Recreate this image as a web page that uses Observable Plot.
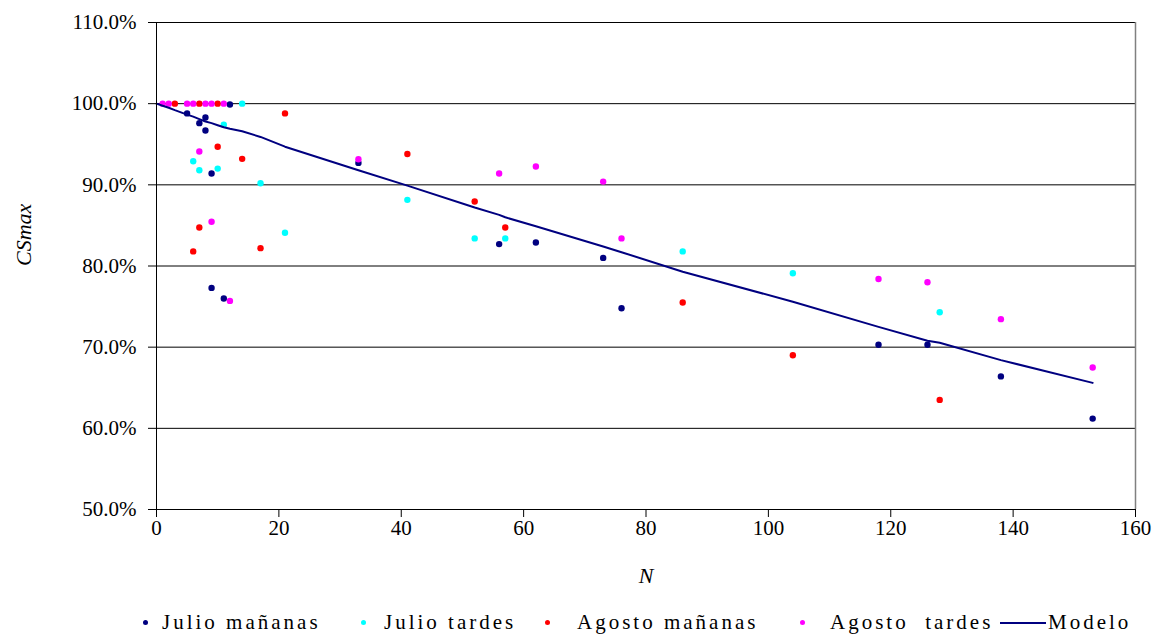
<!DOCTYPE html>
<html>
<head>
<meta charset="utf-8">
<script src="https://cdn.jsdelivr.net/npm/d3@7"></script>
<script src="https://cdn.jsdelivr.net/npm/@observablehq/plot@0.6"></script>
<style>
  html, body { margin: 0; padding: 0; background: #fff; }
  #chart { width: 1157px; }
  #chart svg, #chart svg text { font-family: "Liberation Serif", "Times New Roman", Times, serif !important; }
  .legend { position: relative; width: 1157px; height: 25px; font-family: "Liberation Serif", "Times New Roman", Times, serif; font-size: 21px; line-height: 25px; color: #000; }
  .legend span.t { position: absolute; top: 0; letter-spacing: 3px; white-space: pre; }
  .legend span.d { position: absolute; top: 10px; width: 5px; height: 5px; border-radius: 50%; }
  .legend span.l { position: absolute; top: 12px; height: 2px; background: #000080; }
</style>
</head>
<body>
<div id="chart"></div>
<script>
// ---- Data ----
const seriesNames = ["Julio mañanas", "Julio tardes", "Agosto mañanas", "Agosto  tardes", "Modelo"];
const seriesColors = ["#000080", "#00FFFF", "#FF0000", "#FF00FF", "#000080"];

const julioMananasN = [5, 7, 8, 8, 9, 9, 11, 12, 33, 56, 62, 73, 76, 118, 126, 138, 153];
const julioMananasV = [98.8, 97.6, 98.3, 96.7, 91.4, 77.3, 76.0, 99.9, 92.7, 82.7, 82.9, 81.0, 74.8, 70.3, 70.3, 66.4, 61.2];

const julioTardesN = [6, 7, 10, 11, 14, 17, 21, 41, 52, 57, 86, 104, 128];
const julioTardesV = [92.9, 91.8, 92.0, 97.4, 100.0, 90.2, 84.1, 88.15, 83.4, 83.4, 81.8, 79.1, 74.3];

const agostoMananasN = [3, 7, 10, 6, 7, 10, 14, 17, 21, 41, 52, 57, 86, 104, 128];
const agostoMananasV = [100.0, 100.0, 100.0, 81.8, 84.75, 94.7, 93.2, 82.2, 98.8, 93.8, 87.95, 84.75, 75.5, 69.0, 63.5];

const agostoTardesN = [1, 2, 5, 6, 8, 9, 11, 7, 9, 12, 33, 56, 62, 73, 76, 118, 126, 138, 153];
const agostoTardesV = [100.0, 100.0, 100.0, 100.0, 100.0, 100.0, 100.0, 94.1, 85.45, 75.7, 93.15, 91.4, 92.25, 90.4, 83.4, 78.4, 78.0, 73.45, 67.5];

const modeloN = [0, 1, 2, 3, 5, 6, 7, 8, 9, 10, 11, 12, 14, 17, 21, 33, 41, 52, 56, 57, 62, 73, 76, 86, 104, 118, 126, 128, 138, 153];
const modeloV = [100, 99.75, 99.5, 99.2, 98.65, 98.4, 98.1, 97.8, 97.6, 97.35, 97.1, 96.9, 96.6, 95.9, 94.7, 91.8, 89.9, 87.2, 86.3, 86.0, 84.9, 82.4, 81.7, 79.3, 75.6, 72.5, 70.8, 70.55, 68.4, 65.6];

const xTicks = [0, 20, 40, 60, 80, 100, 120, 140, 160];
const yTicks = [50, 60, 70, 80, 90, 100, 110];

// ---- Build tables ----
const zip = (ns, vs) => ns.map((n, i) => ({N: n, v: vs[i]}));
const scatter = [
  zip(julioMananasN, julioMananasV),
  zip(julioTardesN, julioTardesV),
  zip(agostoMananasN, agostoMananasV),
  zip(agostoTardesN, agostoTardesV)
];
const modelo = zip(modeloN, modeloV);

const W = 1157, H = 610;
const font = "'Liberation Serif', 'Times New Roman', Times, serif";

const plot = Plot.plot({
  width: W,
  height: H,
  marginLeft: 156,
  marginRight: 22,
  marginTop: 22,
  marginBottom: 101,
  style: {fontFamily: font, fontSize: "21px", color: "#000", background: "#fff"},
  x: {domain: [0, 160], ticks: xTicks},
  y: {domain: [50, 110], ticks: yTicks},
  marks: [
    Plot.ruleY(yTicks.filter(t => t > 50), {y: d => d, stroke: "#000", strokeWidth: 1}),
    Plot.ruleX([160], {stroke: "#808080", strokeWidth: 1.5}),
    ...scatter.map((s, i) => Plot.dot(s, {x: "N", y: "v", r: 3.2, fill: seriesColors[i], stroke: null})),
    Plot.line(modelo, {x: "N", y: "v", stroke: seriesColors[4], strokeWidth: 2}),
    Plot.axisY({ticks: yTicks, tickSize: 8, tickPadding: 12, tickFormat: d => d.toFixed(1) + "%", label: null, stroke: "#000", strokeOpacity: 1}),
    Plot.axisX({ticks: xTicks, tickSize: 8, tickPadding: 3, tickFormat: d => String(d), label: null, stroke: "#000", strokeOpacity: 1}),
    Plot.ruleX([0], {stroke: "#000", strokeWidth: 1}),
    Plot.ruleY([50], {stroke: "#000", strokeWidth: 1}),
    Plot.text(["CSmax"], {frameAnchor: "left", dx: -133, rotate: -90, fontStyle: "italic", fontSize: 22, text: d => d}),
    Plot.text(["N"], {frameAnchor: "bottom", dy: 73, fontStyle: "italic", fontSize: 22, text: d => d})
  ]
});
document.getElementById("chart").appendChild(plot);

// ---- Legend ----
const legend = document.createElement("div");
legend.className = "legend";
const items = [
  {kind: "dot", mark: 145, text: 162},
  {kind: "dot", mark: 363, text: 384},
  {kind: "dot", mark: 547, text: 577},
  {kind: "dot", mark: 802, text: 830},
  {kind: "line", mark: 1000, text: 1048}
];
items.forEach((it, i) => {
  if (it.kind === "dot") {
    const d = document.createElement("span");
    d.className = "d";
    d.style.left = (it.mark - 2.5) + "px";
    d.style.background = seriesColors[i];
    legend.appendChild(d);
  } else {
    const l = document.createElement("span");
    l.className = "l";
    l.style.left = it.mark + "px";
    l.style.width = "46px";
    legend.appendChild(l);
  }
  const t = document.createElement("span");
  t.className = "t";
  t.style.left = it.text + "px";
  t.textContent = seriesNames[i];
  legend.appendChild(t);
});
document.getElementById("chart").appendChild(legend);
</script>
</body>
</html>
